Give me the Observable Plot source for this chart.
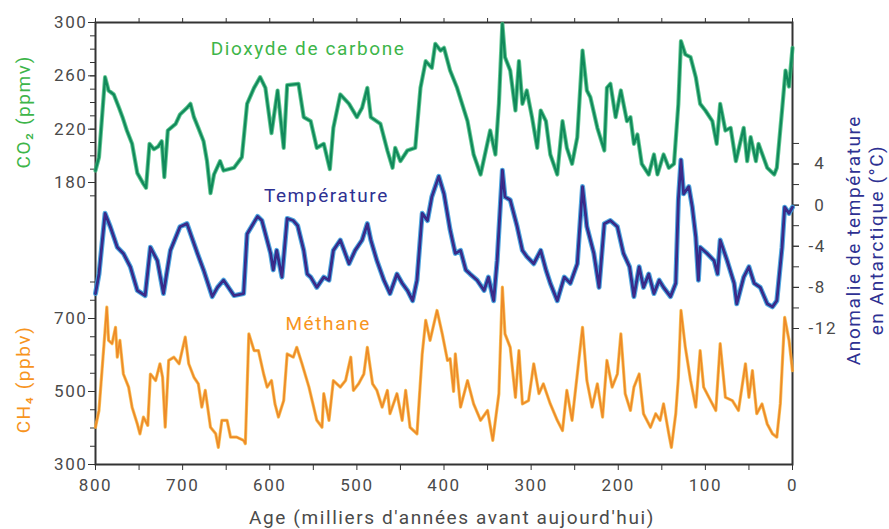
<!DOCTYPE html>
<html><head><meta charset="utf-8">
<script src="https://cdn.jsdelivr.net/npm/d3@7"></script>
<script src="https://cdn.jsdelivr.net/npm/@observablehq/plot@0.6"></script>
<style>
html,body{margin:0;padding:0;background:#fff;}
#chart{position:relative;width:889px;height:529px;overflow:hidden;}
#chart svg{position:absolute;left:0;top:0;}
#chart svg text{letter-spacing:1.6px;}
#chart svg text.narrow{letter-spacing:1.1px;}
</style></head><body><div id="chart"></div>
<script>
// ---- Data (ages in thousands of years before present) ----
const co2Age = [800,796,789,785,779,773,769,764,758,752,745,742,738,733,728,724,721,717,708,703,695,691,687,682,676,672,668,664,657,653,641,632,626,618,611,605,598,591,584,580,567,561,553,546,538,531,527,519,509,500,494,488,484,473,465,459,456,450,442,433,427,421,414,410,404,400,393,385,373,366,358,352,347,341,337,333,330,324,318,314,310,305,299,293,289,283,278,270,264,259,253,247,241,236,232,224,216,213,209,203,197,190,186,182,178,173,165,159,155,148,142,136,131,128,123,117,111,106,100,92,87,83,77,71,65,56,52,48,42,39,29,21,18,12,8,4,0];
const co2Val = [189,199,259,249,246,236,229,219,209,187,179,176,209,205,207,211,184,219,224,231,236,239,229,221,211,196,172,186,196,189,191,199,239,251,259,251,217,249,206,253,254,229,226,206,209,190,221,246,239,229,236,251,229,224,204,191,206,196,204,206,251,271,266,284,279,281,264,251,226,201,186,204,219,201,239,299,274,264,234,271,239,249,229,206,234,226,201,186,226,206,194,214,279,249,244,221,204,251,254,229,249,226,229,209,216,194,186,201,186,201,191,194,239,286,276,274,259,239,234,226,209,239,219,221,196,221,196,214,196,209,191,186,191,234,264,252,281];

const tempAge = [800,796,789,783,775,768,760,752,743,737,729,722,714,703,695,683,676,666,660,653,641,630,626,614,609,599,596,592,586,580,573,568,561,557,553,546,538,532,527,519,509,502,494,488,484,477,469,462,454,448,442,436,431,425,419,414,406,400,393,387,381,375,370,362,354,349,343,339,333,330,324,316,310,305,297,289,283,278,270,262,255,247,241,236,228,222,216,209,201,194,187,182,176,171,165,159,153,148,140,134,131,128,125,119,115,111,108,106,98,90,86,83,75,67,64,56,50,44,37,29,23,18,12,9,4,0];
const tempVal = [-8.6,-6.7,-0.8,-2.1,-4.1,-4.7,-6.0,-8.3,-8.8,-4.1,-5.4,-8.6,-4.4,-2.1,-1.8,-4.7,-6.3,-8.9,-8.0,-7.3,-8.8,-8.6,-2.8,-1.1,-1.5,-4.7,-6.3,-4.4,-7.0,-1.3,-1.5,-2.0,-4.4,-6.7,-7.0,-8.0,-7.0,-7.3,-4.4,-3.4,-5.7,-4.4,-3.4,-1.8,-3.4,-5.4,-7.3,-8.6,-6.7,-7.6,-8.3,-9.3,-7.3,-0.8,-1.5,0.8,2.8,1.1,-2.4,-4.7,-4.4,-6.3,-6.7,-7.3,-8.3,-7.0,-9.3,-5.4,3.4,0.8,0.5,-2.1,-4.4,-5.0,-5.7,-4.4,-6.3,-7.6,-9.3,-7.0,-7.6,-5.7,1.8,-2.1,-4.7,-8.0,-1.8,-1.5,-2.1,-4.7,-6.0,-8.9,-6.0,-8.0,-6.7,-8.6,-7.3,-8.0,-8.9,-7.6,0.5,4.4,1.1,1.8,-0.2,-3.1,-7.3,-4.1,-4.7,-5.4,-6.7,-3.4,-5.4,-7.6,-9.6,-7.0,-6.0,-7.6,-8.0,-9.6,-9.9,-9.3,-4.1,-0.2,-0.8,-0.2];

const ch4Age = [800,796,787,785,781,777,775,772,768,762,758,752,749,745,740,737,731,726,723,720,716,710,704,697,693,687,682,678,674,668,662,659,655,649,645,638,630,628,624,618,613,607,603,598,594,590,584,580,573,569,563,555,546,540,538,532,527,519,513,507,504,498,492,488,482,477,471,465,462,454,448,444,439,431,425,421,416,408,402,396,393,389,387,381,373,366,358,350,344,337,333,330,324,318,314,310,303,297,291,286,278,270,264,259,253,247,241,236,230,224,218,213,207,201,197,192,186,182,176,171,163,157,152,148,142,139,134,131,128,123,117,111,106,102,94,88,83,77,69,62,54,50,46,41,35,29,23,18,14,9,4,0];
const ch4Val = [402,448,731,640,631,676,594,640,548,512,457,411,384,430,407,548,530,576,539,402,585,594,576,649,576,539,521,457,503,402,384,347,421,421,375,375,366,357,658,612,612,548,512,530,466,430,475,603,594,621,576,512,421,402,494,421,530,512,530,594,503,521,548,621,521,503,457,503,439,494,421,503,402,384,603,695,640,722,658,585,590,500,603,457,530,466,421,448,366,494,786,658,621,484,612,466,475,576,494,521,466,421,393,503,421,548,676,530,457,521,430,585,512,548,658,494,448,512,548,439,402,439,421,466,384,347,439,539,722,621,530,457,612,512,475,448,631,484,475,448,576,484,557,439,466,411,384,375,466,703,640,557];

const xTicks = [800,700,600,500,400,300,200,100,0];
const co2Ticks = [180,220,260,300];
const tempTicks = [4,0,-4,-8,-12];
const ch4Ticks = [300,500,700];

const co2 = co2Age.map((a,i)=>({age:a, v:co2Val[i]}));
const temp = tempAge.map((a,i)=>({age:a, v:tempVal[i]}));
const ch4 = ch4Age.map((a,i)=>({age:a, v:ch4Val[i]}));

const W=889, H=529;
const base = {
  width: W, height: H, marginLeft: 95, marginRight: 97, marginTop: 22, marginBottom: 65,
  x: {domain: [800, 0], axis: null},
  style: {background: "transparent", fontFamily: "Roboto, sans-serif", fontSize: "17px", color: "#4a4a4a", overflow: "visible"}
};
const GREEN="#3db549", BLUE="#2e3192", ORANGE="#f7941d";
const blank = () => "";

// CO2 panel (also carries the frame and the x axes)
const p1 = Plot.plot({
  ...base,
  y: {domain: [180, 300], range: [182, 22], axis: null},
  marks: [
    Plot.frame({stroke: "#333", strokeWidth: 2}),
    Plot.axisX(xTicks, {anchor: "bottom", tickSize: 6, tickPadding: 8, tickFormat: d => String(d), label: null, stroke: "#333"}),
    Plot.axisX(d3.range(50, 800, 100), {anchor: "bottom", tickSize: 6, tickFormat: blank, label: null, stroke: "#333"}),
    Plot.axisX(d3.range(0, 801, 50), {anchor: "top", tickSize: 5, tickFormat: blank, label: null, stroke: "#333"}),
    Plot.axisY(co2Ticks, {anchor: "left", tickSize: 7, tickPadding: 1, tickFormat: d => String(d), label: null, stroke: "#333"}),
    Plot.axisY(d3.range(170, 301, 10), {anchor: "left", tickSize: 5, tickFormat: blank, label: null, stroke: "#333"}),
    Plot.text(["Age (milliers d'années avant aujourd'hui)"], {frameAnchor: "bottom", dx: 8, dy: 53, lineAnchor: "middle", fontSize: 19, fill: "#4a4a4a"}),
    Plot.line(co2, {x: "age", y: "v", stroke: "#3bb978", strokeWidth: 4.2, strokeOpacity: 0.8}),
    Plot.line(co2, {x: "age", y: "v", stroke: "#118a5b", strokeWidth: 2.3}),
    Plot.text(["Dioxyde de carbone"], {x: 556, y: 280.5, fontSize: 19, fill: GREEN, lineAnchor: "middle"}),
    Plot.text(["CO₂ (ppmv)"], {x: 800, y: 233, dx: -72, rotate: -90, fontSize: 19, fill: GREEN, lineAnchor: "middle"})
  ]
});

// Temperature panel
const p2 = Plot.plot({
  ...base,
  y: {domain: [4, -12], range: [163.5, 328], axis: null},
  marks: [
    Plot.axisY(tempTicks, {anchor: "right", tickSize: 6, tickPadding: 10, textAnchor: "start", tickFormat: d => d < 0 ? "-" + (-d) : "\u00a0" + d, label: null, stroke: "#333"}),
    Plot.axisY(d3.range(-12, 7, 2), {anchor: "right", tickSize: 6, tickFormat: blank, label: null, stroke: "#333"}),
    Plot.line(temp, {x: "age", y: "v", stroke: "#3f9fdc", strokeWidth: 5, strokeOpacity: 0.9}),
    Plot.line(temp, {x: "age", y: "v", stroke: "#2b2c8c", strokeWidth: 2.8}),
    Plot.line(temp, {x: "age", y: "v", stroke: "#4b2a86", strokeWidth: 1}),
    Plot.text(["Température"], {x: 535, y: 0.9, fontSize: 19, fill: BLUE, lineAnchor: "middle"}),
    Plot.text(["Anomalie de température\nen Antarctique (°C)"], {x: 0, y: -3.4, dx: 71.5, rotate: -90, fontSize: 19, lineHeight: 1.2, fill: BLUE, lineAnchor: "middle", className: "narrow"})
  ]
});

// Methane panel
const p3 = Plot.plot({
  ...base,
  y: {domain: [300, 700], range: [464, 318], axis: null},
  marks: [
    Plot.axisY(ch4Ticks, {anchor: "left", tickSize: 7, tickPadding: 1, tickFormat: d => String(d), label: null, stroke: "#333"}),
    Plot.axisY(d3.range(300, 801, 50), {anchor: "left", tickSize: 5, tickFormat: blank, label: null, stroke: "#333"}),
    Plot.line(ch4, {x: "age", y: "v", stroke: "#f6b640", strokeWidth: 3.2, strokeOpacity: 0.85}),
    Plot.line(ch4, {x: "age", y: "v", stroke: "#ee8a28", strokeWidth: 1.7}),
    Plot.text(["Méthane"], {x: 533, y: 686, fontSize: 19, fill: ORANGE, lineAnchor: "middle"}),
    Plot.text(["CH₄ (ppbv)"], {x: 800, y: 533, dx: -72, rotate: -90, fontSize: 19, fill: ORANGE, lineAnchor: "middle"})
  ]
});

const el = document.getElementById("chart");
el.append(p1, p2, p3);
</script></body></html>
